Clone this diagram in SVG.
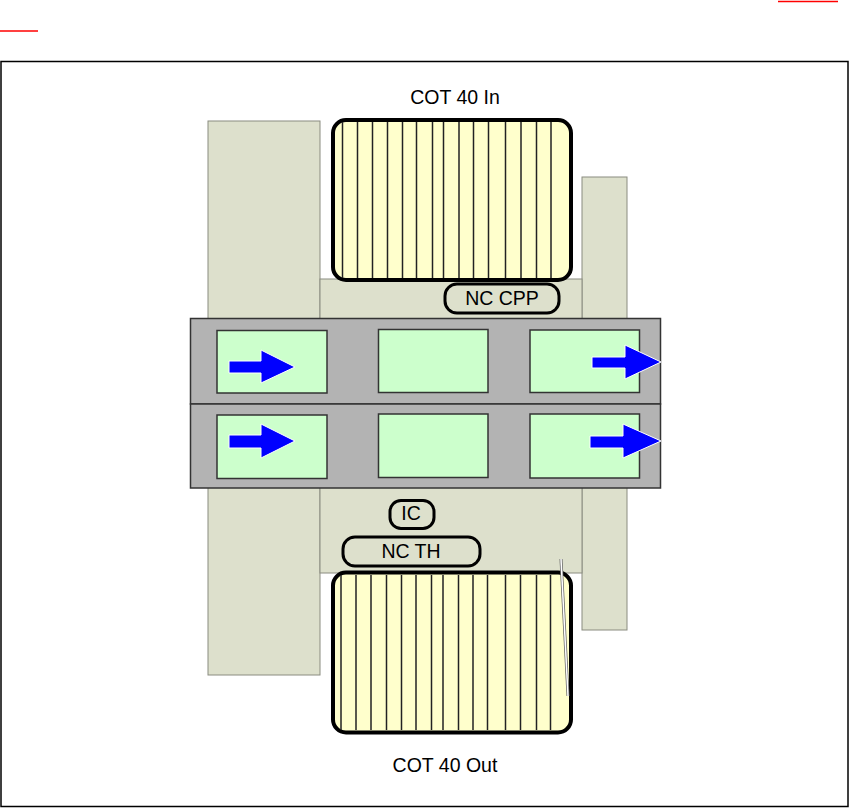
<svg xmlns="http://www.w3.org/2000/svg" width="850" height="808" viewBox="0 0 850 808">
<style>
.blk{fill:#DDE0CC;stroke:#8A8C80;stroke-width:1}
.cot{fill:#FFFFCC;stroke:#000;stroke-width:4}
.slat{stroke:#222;stroke-width:1.5}
.rail{fill:#B3B3B3;stroke:#333;stroke-width:1.5}
.cell{fill:#CCFFCC;stroke:#333;stroke-width:1.5}
.tag{fill:#DDE0CC;stroke:#000;stroke-width:3}
.arr{fill:#0000FF;stroke:#FFFFFF;stroke-width:1}
.t{font-family:"Liberation Sans",Arial,sans-serif;font-size:19.5px;fill:#000;text-anchor:middle}
</style>
<rect width="850" height="808" fill="#FFFFFF"/>
<line x1="778" y1="1.5" x2="838" y2="1.5" stroke="#FF0000" stroke-width="1.5"/>
<line x1="0" y1="31" x2="38" y2="31" stroke="#FF0000" stroke-width="1.5"/>
<rect x="1" y="61.5" width="847" height="745" fill="none" stroke="#000" stroke-width="1.5"/>

<g id="left-block"><rect class="blk" x="208" y="121" width="112" height="554"/></g>
<g id="right-block"><rect class="blk" x="582" y="177" width="45" height="453"/></g>
<g id="middle-band"><rect class="blk" x="320" y="279" width="262" height="294"/></g>

<g id="cot-in">
<rect class="cot" x="333" y="120" width="238" height="160" rx="13"/>
<g class="slat">
<line x1="342.5" y1="122" x2="342.5" y2="278"/><line x1="357.5" y1="122" x2="357.5" y2="278"/><line x1="372.5" y1="122" x2="372.5" y2="278"/><line x1="387.5" y1="122" x2="387.5" y2="278"/><line x1="402.5" y1="122" x2="402.5" y2="278"/><line x1="416.5" y1="122" x2="416.5" y2="278"/><line x1="432.5" y1="122" x2="432.5" y2="278"/><line x1="443.5" y1="122" x2="443.5" y2="278"/><line x1="459" y1="122" x2="459" y2="278"/><line x1="473.5" y1="122" x2="473.5" y2="278"/><line x1="488.5" y1="122" x2="488.5" y2="278"/><line x1="505.5" y1="122" x2="505.5" y2="278"/><line x1="521" y1="122" x2="521" y2="278"/><line x1="536.5" y1="122" x2="536.5" y2="278"/><line x1="551" y1="122" x2="551" y2="278"/>
</g>
<text class="t" x="455" y="104">COT 40 In</text>
</g>

<g id="cot-out">
<rect class="cot" x="333" y="572.5" width="238" height="160" rx="13"/>
<g class="slat">
<line x1="341" y1="575" x2="341" y2="730"/><line x1="356" y1="575" x2="356" y2="730"/><line x1="371" y1="575" x2="371" y2="730"/><line x1="386.5" y1="575" x2="386.5" y2="730"/><line x1="401.5" y1="575" x2="401.5" y2="730"/><line x1="416" y1="575" x2="416" y2="730"/><line x1="431.5" y1="575" x2="431.5" y2="730"/><line x1="443" y1="575" x2="443" y2="730"/><line x1="458.5" y1="575" x2="458.5" y2="730"/><line x1="473" y1="575" x2="473" y2="730"/><line x1="487.5" y1="575" x2="487.5" y2="730"/><line x1="505.5" y1="575" x2="505.5" y2="730"/><line x1="520.5" y1="575" x2="520.5" y2="730"/><line x1="536.5" y1="575" x2="536.5" y2="730"/><line x1="550.5" y1="575" x2="550.5" y2="730"/>
</g>
<line x1="561" y1="559" x2="568" y2="696" stroke="#666" stroke-width="3"/>
<line x1="561" y1="559" x2="568" y2="696" stroke="#FFFFFF" stroke-width="1.5"/>
<text class="t" x="445" y="772">COT 40 Out</text>
</g>

<g id="nc-cpp">
<rect class="tag" x="445" y="284" width="114" height="29" rx="12"/>
<text class="t" x="502" y="305">NC CPP</text>
</g>
<g id="ic">
<rect class="tag" x="390" y="500.5" width="44" height="28" rx="11"/>
<text class="t" x="411" y="520">IC</text>
</g>
<g id="nc-th">
<rect class="tag" x="343" y="537" width="137" height="29" rx="12"/>
<text class="t" x="411" y="558">NC TH</text>
</g>

<g id="rail">
<rect class="rail" x="190.5" y="318.5" width="470" height="85.5"/>
<rect class="rail" x="190.5" y="404" width="470" height="84"/>
</g>
<g id="cell-1-1"><rect class="cell" x="217" y="330.5" width="110" height="62.5"/></g>
<g id="cell-1-2"><rect class="cell" x="378.5" y="329.5" width="109.5" height="63"/></g>
<g id="cell-1-3"><rect class="cell" x="530" y="330" width="109.5" height="62.5"/></g>
<g id="cell-2-1"><rect class="cell" x="217" y="415" width="110" height="63.5"/></g>
<g id="cell-2-2"><rect class="cell" x="378.5" y="414" width="109.5" height="63.5"/></g>
<g id="cell-2-3"><rect class="cell" x="530" y="414" width="109.5" height="64"/></g>

<g id="connectors">
<polygon class="arr" points="229,361 261,361 261,350 295,367 261,383 261,373 229,373"/>
<polygon class="arr" points="592,357 625,357 625,345 661,362 625,379 625,368 592,368"/>
<polygon class="arr" points="229,435 261,435 261,424 295,441 261,458 261,448 229,448"/>
<polygon class="arr" points="590,436 623,436 623,424 661,441 623,458 623,448 590,448"/>
</g>
</svg>
